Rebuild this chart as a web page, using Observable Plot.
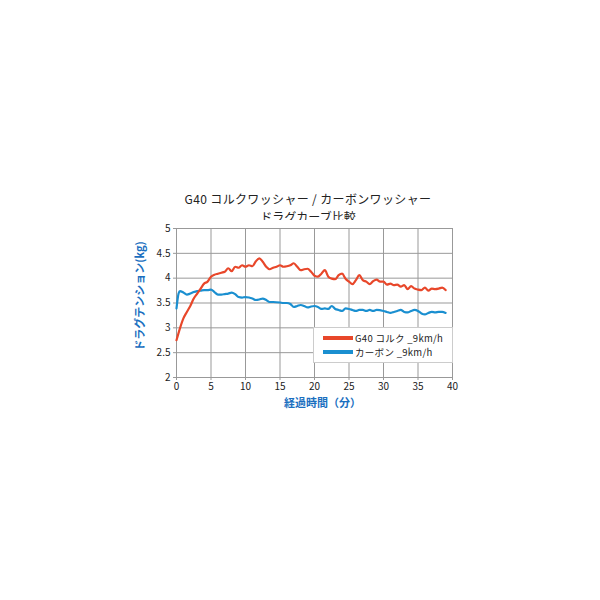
<!DOCTYPE html>
<html><head><meta charset="utf-8">
<script src="https://cdn.jsdelivr.net/npm/d3@7"></script>
<script src="https://cdn.jsdelivr.net/npm/@observablehq/plot@0.6"></script>
<style>
body{margin:0;background:#fff;font-family:"Noto Sans CJK JP","Noto Sans",sans-serif;}
#wrap{position:absolute;left:0;top:0;width:600px;height:600px;}
.tl{position:absolute;left:126px;width:364px;text-align:center;font-size:12px;line-height:17px;height:17px;color:#222;white-space:nowrap;}
#chart{position:absolute;left:120px;top:220px;}
#chart svg{overflow:visible;}
#legend{position:absolute;left:313px;top:327px;width:138px;height:34px;background:#fff;border:1px solid #ccc;font-size:9.5px;letter-spacing:0.3px;color:#222;}
.row{position:absolute;left:9px;height:14px;line-height:14px;white-space:nowrap;}
.sw{display:inline-block;width:30px;height:4px;vertical-align:middle;margin-right:2px;position:relative;top:-1px;}
</style></head>
<body><div id="wrap">
<div class="tl" style="top:190px;letter-spacing:0.35px">G40 コルクワッシャー / カーボンワッシャー</div>
<div class="tl" style="top:208px">ドラグカーブ比較</div>
<div id="chart"></div>
<div id="legend"></div>
</div>
<script>
const seriesNames = ["G40 コルク _9km/h", "カーボン _9km/h"];
const seriesColors = ["#e8472a", "#1a8fd0"];
const time = [0,0.5,1,1.5,2,2.5,3,3.5,4,4.5,5,5.5,6,6.5,7,7.5,8,8.5,9,9.5,10,10.5,11,11.5,12,12.5,13,13.5,14,14.5,15,15.5,16,16.5,17,17.5,18,18.5,19,19.5,20,20.5,21,21.5,22,22.5,23,23.5,24,24.5,25,25.5,26,26.5,27,27.5,28,28.5,29,29.5,30,30.5,31,31.5,32,32.5,33,33.5,34,34.5,35,35.5,36,36.5,37,37.5,38,38.5,39];
const cork = [2.75,2.99,3.19,3.32,3.44,3.59,3.69,3.79,3.89,3.93,4.03,4.07,4.09,4.11,4.13,4.20,4.14,4.23,4.21,4.26,4.23,4.26,4.24,4.34,4.40,4.33,4.23,4.18,4.21,4.23,4.26,4.23,4.24,4.26,4.30,4.23,4.16,4.18,4.19,4.13,4.05,4.03,4.09,4.16,4.03,3.99,3.98,4.06,4.09,3.99,3.93,3.88,3.96,4.06,3.96,3.93,3.88,3.94,3.97,3.93,3.93,3.87,3.89,3.86,3.87,3.83,3.86,3.78,3.84,3.79,3.77,3.76,3.81,3.75,3.79,3.78,3.79,3.81,3.76];
const carbonTime = [0,0.3,0.5,1,1.5,2,2.5,3,3.5,4,4.5,5,5.5,6,6.5,7,7.5,8,8.5,9,9.5,10,10.5,11,11.5,12,12.5,13,13.5,14,15,15.5,16,16.5,17,17.5,18,18.5,19,19.5,20,20.5,21,21.5,22,22.5,23,23.5,24,24.5,25,25.5,26,26.5,27,27.5,28,28.5,29,30,30.5,31,31.5,32,32.5,33,33.5,34,34.5,35,35.5,36,36.5,37,37.5,38,38.5,39];
const carbon = [3.39,3.69,3.74,3.71,3.67,3.69,3.72,3.74,3.75,3.76,3.76,3.77,3.72,3.67,3.67,3.68,3.69,3.71,3.68,3.62,3.61,3.62,3.61,3.59,3.56,3.57,3.59,3.56,3.52,3.52,3.51,3.50,3.50,3.48,3.42,3.44,3.46,3.44,3.41,3.43,3.44,3.42,3.38,3.39,3.38,3.44,3.38,3.36,3.34,3.39,3.38,3.36,3.34,3.36,3.36,3.34,3.36,3.34,3.36,3.34,3.32,3.30,3.32,3.34,3.36,3.32,3.31,3.34,3.36,3.34,3.29,3.27,3.30,3.32,3.31,3.32,3.32,3.30];
const xTicks = [0,5,10,15,20,25,30,35,40];
const yTicks = [2,2.5,3,3.5,4,4.5,5];

const corkData = time.map((t,i)=>({t, v: cork[i]}));
const carbonData = carbonTime.map((t,i)=>({t, v: carbon[i]}));

const plot = Plot.plot({
  width: 350, height: 200,
  marginLeft: 56, marginRight: 18, marginTop: 8, marginBottom: 43,
  style: {fontFamily: '"Noto Sans CJK JP","Noto Sans",sans-serif', fontSize: "10px", color: "#222", background: "#fff", overflow: "visible"},
  x: {domain: [0,40], ticks: xTicks, label: null},
  y: {domain: [2,5], ticks: yTicks, label: null},
  marks: [
    Plot.gridX(xTicks, {stroke: "#999", strokeOpacity: 1, strokeWidth: 1}),
    Plot.gridY(yTicks, {stroke: "#999", strokeOpacity: 1, strokeWidth: 1}),
    Plot.frame({stroke: "#999"}),
    Plot.axisX(xTicks, {tickSize: 3, tickPadding: 2, fontSize: 10, stroke: "#999", label: null}),
    Plot.axisY(yTicks, {tickSize: 3, tickPadding: 3, fontSize: 10, stroke: "#999", label: null, tickFormat: d => String(d)}),
    Plot.line(carbonData, {x: "t", y: "v", stroke: seriesColors[1], strokeWidth: 2.2, curve: "monotone-x"}),
    Plot.line(corkData, {x: "t", y: "v", stroke: seriesColors[0], strokeWidth: 2.2, curve: "monotone-x"}),
    Plot.text(["経過時間（分）"], {frameAnchor: "bottom", dy: 29, dx: 8, fontSize: 11, fontWeight: "bold", fill: "#1a6fc0"}),
    Plot.text(["ドラグテンション(kg)"], {frameAnchor: "left", dx: -36, dy: -7, rotate: -90, textAnchor: "middle", fontSize: 11, fontWeight: "bold", fill: "#1a6fc0"})
  ]
});
document.getElementById("chart").appendChild(plot);

const legend = document.getElementById("legend");
seriesNames.forEach((n,i)=>{
  const r = document.createElement("div");
  r.className = "row";
  r.style.top = (3 + i*14) + "px";
  r.innerHTML = `<span class="sw" style="background:${seriesColors[i]}"></span>${n}`;
  legend.appendChild(r);
});
</script>
</body></html>
